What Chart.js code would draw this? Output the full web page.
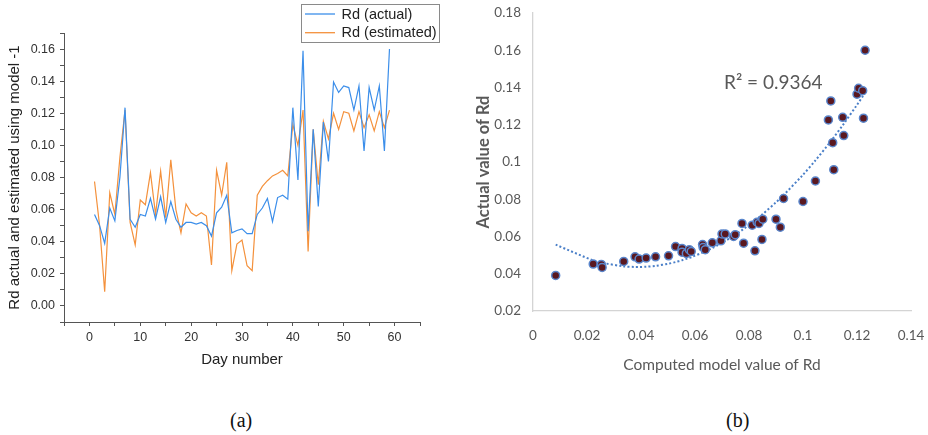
<!DOCTYPE html>
<html>
<head>
<meta charset="utf-8">
<script src="https://cdn.jsdelivr.net/npm/chart.js@4.4.0/dist/chart.umd.min.js"></script>
<style>
  body { margin: 0; background: #fff; width: 928px; height: 435px; position: relative; overflow: hidden; }
  canvas { position: absolute; top: 0; }
  #left { left: 0; }
  #right { left: 464px; }
  .cap { position: absolute; top: 410px; font: 20px "Liberation Serif", serif; line-height: 20px; color: #111; }
</style>
</head>
<body>
<canvas id="left" width="464" height="400"></canvas>
<canvas id="right" width="464" height="400"></canvas>
<div class="cap" style="left:230px">(a)</div>
<div class="cap" style="left:726px">(b)</div>
<script>
// (a) daily Rd, actual vs estimated by model 1
const days = [1, 2, 3, 4, 5, 6, 7, 8, 9, 10, 11, 12, 13, 14, 15, 16, 17, 18, 19, 20,
  21, 22, 23, 24, 25, 26, 27, 28, 29, 30, 31, 32, 33, 34, 35, 36, 37, 38, 39, 40,
  41, 42, 43, 44, 45, 46, 47, 48, 49, 50, 51, 52, 53, 54, 55, 56, 57, 58, 59];
const rdActual = [0.057, 0.050, 0.039, 0.061, 0.053, 0.0804, 0.1235, 0.054, 0.049, 0.057,
  0.056, 0.067, 0.054, 0.068, 0.052, 0.065, 0.054, 0.049, 0.052, 0.052,
  0.051, 0.052, 0.050, 0.0435, 0.058, 0.0615, 0.069, 0.0455, 0.047, 0.048,
  0.045, 0.045, 0.057, 0.061, 0.067, 0.0525, 0.0675, 0.069, 0.0665, 0.1235,
  0.0785, 0.159, 0.0465, 0.110, 0.062, 0.1145, 0.090, 0.1395, 0.133, 0.137,
  0.136, 0.122, 0.137, 0.0965, 0.136, 0.122, 0.137, 0.0965, 0.160];
const rdEstimated = [0.0775, 0.050, 0.0088, 0.0705, 0.057, 0.0928, 0.122, 0.052, 0.038, 0.066,
  0.063, 0.083, 0.057, 0.084, 0.055, 0.091, 0.060, 0.0455, 0.0635, 0.058,
  0.056, 0.058, 0.056, 0.0255, 0.0845, 0.069, 0.0895, 0.022, 0.0385, 0.041,
  0.025, 0.022, 0.069, 0.0745, 0.078, 0.081, 0.0825, 0.0845, 0.081, 0.113,
  0.100, 0.122, 0.034, 0.110, 0.0755, 0.115, 0.104, 0.120, 0.110, 0.121,
  0.120, 0.109, 0.121, 0.111, 0.119, 0.109, 0.121, 0.111, 0.122];
const leftXTicks = [0, 10, 20, 30, 40, 50, 60];
const leftYTicks = [0, 2, 4, 6, 8, 10, 12, 14, 16]; // in hundredths

// (b) actual vs computed
const computedRd = [0.0084, 0.0223, 0.0253, 0.0256, 0.0336, 0.0378, 0.0393, 0.0419, 0.0454, 0.0502,
  0.0528, 0.0552, 0.0552, 0.0568, 0.0579, 0.0586, 0.0628, 0.063, 0.0638, 0.0664,
  0.0696, 0.07, 0.0712, 0.0743, 0.0749, 0.0774, 0.078, 0.0812, 0.0822, 0.083,
  0.0837, 0.0848, 0.0851, 0.09, 0.0916, 0.0928, 0.1, 0.1046, 0.1114, 0.1094,
  0.1103, 0.111, 0.1147, 0.1151, 0.12, 0.1206, 0.1221, 0.1224, 0.123];
const actualRd = [0.0391, 0.0452, 0.045, 0.0434, 0.0466, 0.0491, 0.0479, 0.0484, 0.0491, 0.0496,
  0.0546, 0.0536, 0.0516, 0.0509, 0.0529, 0.052, 0.0557, 0.0541, 0.0529, 0.0566,
  0.0577, 0.0614, 0.0614, 0.06, 0.061, 0.067, 0.0564, 0.0661, 0.0523, 0.0677,
  0.067, 0.0584, 0.0693, 0.0693, 0.065, 0.0804, 0.0788, 0.0898, 0.0959, 0.1226,
  0.1328, 0.1104, 0.124, 0.1142, 0.1364, 0.1396, 0.1383, 0.1235, 0.16];
const rSquaredText = 'R\u00B2 = 0.9364';

const blue = '#3b8eea';
const orange = '#f4913c';

// legend with frame, drawn inside the left canvas
const boxLegend = {
  id: 'boxLegend',
  afterDraw(chart) {
    const ctx = chart.ctx;
    ctx.save();
    ctx.fillStyle = '#fff';
    ctx.fillRect(301.5, 4.5, 138, 38);
    ctx.strokeStyle = '#8a8a8a';
    ctx.lineWidth = 1;
    ctx.strokeRect(301.5, 4.5, 138, 38);
    ctx.font = '14.5px "Liberation Sans", Arial, sans-serif';
    ctx.textBaseline = 'middle';
    chart.data.datasets.forEach((ds, i) => {
      const y = 14 + i * 18.7;
      ctx.strokeStyle = ds.borderColor;
      ctx.lineWidth = 1.3;
      ctx.beginPath();
      ctx.moveTo(305, y);
      ctx.lineTo(335, y);
      ctx.stroke();
      ctx.fillStyle = '#222';
      ctx.fillText(ds.label, 341.5, y + 0.5);
    });
    ctx.restore();
  }
};

// fixed axis box sizes, no extra room asked for edge labels
const fixX = h => s => { s.height = h; s.paddingLeft = 0; s.paddingRight = 0; };
const fixY = w => s => { s.width = w; s.paddingTop = 0; s.paddingBottom = 0; };

const leftFont = { family: '"Liberation Sans", Arial, sans-serif' };

new Chart(document.getElementById('left'), {
  type: 'line',
  data: {
    datasets: [
      { label: 'Rd (actual)', data: days.map((d, i) => ({ x: d, y: rdActual[i] })),
        borderColor: blue, borderWidth: 1.2, pointRadius: 0, tension: 0 },
      { label: 'Rd (estimated)', data: days.map((d, i) => ({ x: d, y: rdEstimated[i] })),
        borderColor: orange, borderWidth: 1.2, pointRadius: 0, tension: 0 }
    ]
  },
  options: {
    responsive: false,
    animation: false,
    devicePixelRatio: 1,
    layout: { padding: { top: 33, right: 44, bottom: 31, left: 0 } },
    plugins: { legend: { display: false }, tooltip: { enabled: false } },
    scales: {
      x: {
        type: 'linear', min: -5, max: 65,
        ticks: {
          stepSize: 5, autoSkip: false, maxRotation: 0, padding: 4, color: '#333',
          font: { ...leftFont, size: 12.5 },
          callback: v => leftXTicks.includes(Math.round(v)) ? String(Math.round(v)) : ''
        },
        grid: { drawOnChartArea: false, tickLength: 4, color: '#555' },
        border: { color: '#555', width: 1 },
        title: { display: true, text: 'Day number', color: '#222', font: { ...leftFont, size: 15 }, padding: { top: 0, bottom: 0 } },
        afterFit: fixX(47)
      },
      y: {
        min: -0.01, max: 0.17,
        ticks: {
          stepSize: 0.01, autoSkip: false, padding: 5, color: '#333',
          font: { ...leftFont, size: 12.5 },
          callback: v => {
            const h = Math.round(v * 100);
            return leftYTicks.includes(h) ? (h / 100).toFixed(2) : '';
          }
        },
        grid: { drawOnChartArea: false, tickLength: 4, color: '#555' },
        border: { color: '#555', width: 1 },
        title: { display: true, text: 'Rd actual and estimated using model -1', color: '#222',
          font: { ...leftFont, size: 15 }, padding: { top: 6, bottom: 0 } },
        afterFit: fixY(64)
      }
    }
  },
  plugins: [boxLegend]
});

// least squares quadratic trend through the scatter (like a spreadsheet trendline)
function quadFit(xs, ys) {
  let s = [0, 0, 0, 0, 0], t = [0, 0, 0];
  xs.forEach((x, i) => {
    for (let k = 0; k < 5; k++) s[k] += Math.pow(x, k);
    for (let k = 0; k < 3; k++) t[k] += ys[i] * Math.pow(x, k);
  });
  const m = [[s[0], s[1], s[2], t[0]], [s[1], s[2], s[3], t[1]], [s[2], s[3], s[4], t[2]]];
  for (let c = 0; c < 3; c++) {
    for (let r = c + 1; r < 3; r++) {
      const f = m[r][c] / m[c][c];
      for (let k = c; k < 4; k++) m[r][k] -= f * m[c][k];
    }
  }
  const b = [0, 0, 0];
  for (let r = 2; r >= 0; r--) {
    let v = m[r][3];
    for (let k = r + 1; k < 3; k++) v -= m[r][k] * b[k];
    b[r] = v / m[r][r];
  }
  return x => b[0] + b[1] * x + b[2] * x * x;
}
const trend = quadFit(computedRd, actualRd);
const trendPts = computedRd.slice().sort((a, b) => a - b).map(x => ({ x: x, y: trend(x) }));

const rLabel = {
  id: 'rLabel',
  afterDraw(chart) {
    const ctx = chart.ctx;
    ctx.save();
    ctx.fillStyle = '#595959';
    ctx.font = '19px Lato, "Open Sans", sans-serif';
    ctx.textBaseline = 'middle';
    ctx.fillText(rSquaredText, 260, 83);
    ctx.restore();
  }
};

const rightFont = { family: 'Lato, "Open Sans", sans-serif' };
const fmt = v => String(parseFloat(v.toFixed(2)));

new Chart(document.getElementById('right'), {
  type: 'scatter',
  data: {
    datasets: [
      { label: 'Actual', data: computedRd.map((x, i) => ({ x: x, y: actualRd[i] })),
        backgroundColor: '#5a1820', borderColor: '#5a86cc', borderWidth: 1.5, pointRadius: 4, order: 1 },
      { type: 'line', label: 'Poly. trend', data: trendPts, borderColor: '#4a7fc8', borderWidth: 2,
        borderDash: [2, 2.2], pointRadius: 0, tension: 0.3, fill: false, order: 2 }
    ]
  },
  options: {
    responsive: false,
    animation: false,
    devicePixelRatio: 1,
    layout: { padding: { top: 13, right: 17, bottom: 26, left: 0 } },
    plugins: { legend: { display: false }, tooltip: { enabled: false } },
    scales: {
      x: {
        type: 'linear', min: 0, max: 0.14,
        ticks: { stepSize: 0.02, padding: 17, color: '#595959', font: { ...rightFont, size: 13.5 }, callback: fmt },
        grid: { display: false, drawTicks: false },
        border: { color: '#d4d4d4', width: 1.3 },
        title: { display: true, text: 'Computed model value of Rd', color: '#595959',
          font: { ...rightFont, size: 15.5 }, padding: { top: 0, bottom: 0 } },
        afterFit: fixX(63)
      },
      y: {
        min: 0.02, max: 0.18,
        ticks: { stepSize: 0.02, padding: 12, color: '#595959', font: { ...rightFont, size: 13.5 }, callback: fmt },
        grid: { display: false, drawTicks: false },
        border: { color: '#d4d4d4', width: 1.3 },
        title: { display: true, text: 'Actual value of Rd', color: '#595959',
          font: { ...rightFont, size: 16.5, weight: 'bold' }, padding: { top: 10, bottom: 0 } },
        afterFit: fixY(69)
      }
    }
  },
  plugins: [rLabel]
});
</script>
</body>
</html>
